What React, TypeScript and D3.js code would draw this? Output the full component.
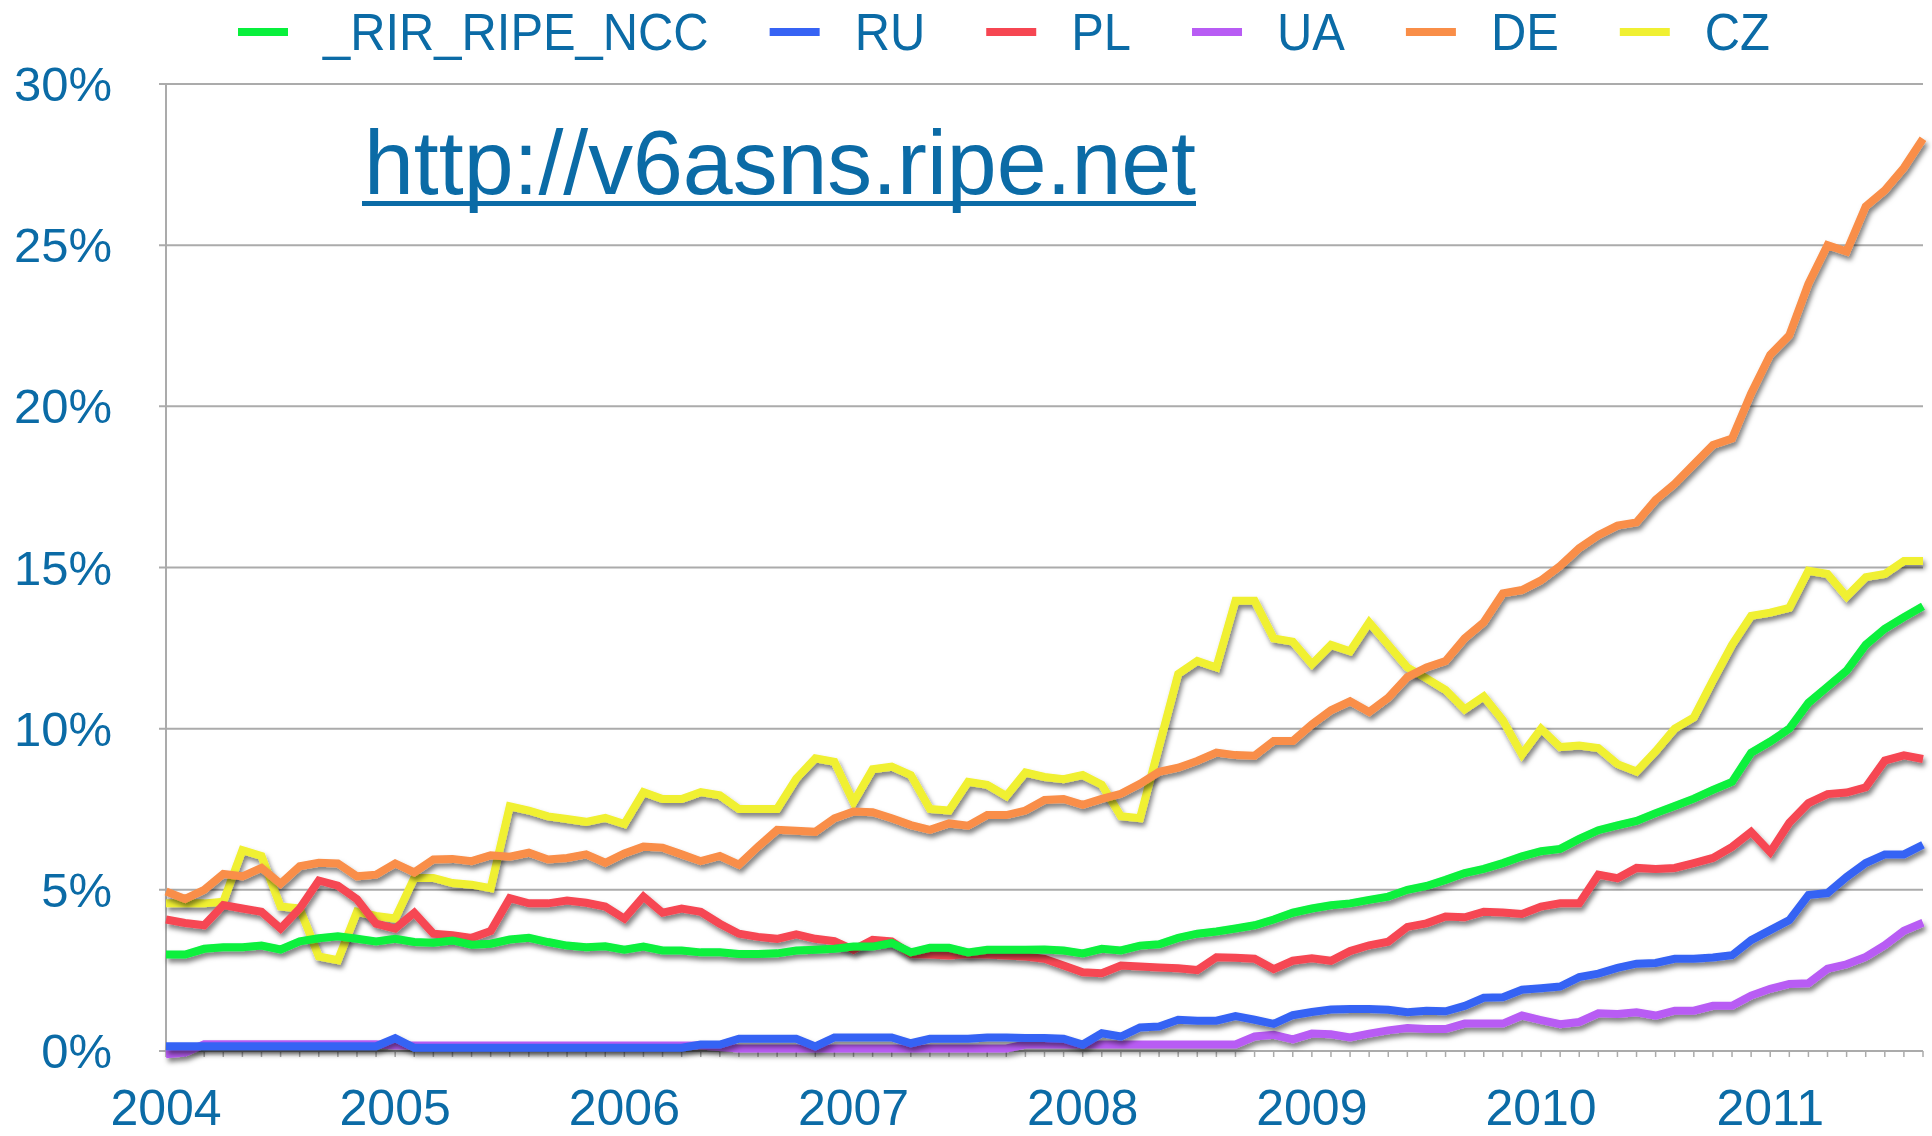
import React, { useRef, useEffect } from 'react';
import * as d3 from 'd3';

// one point per month, Jan 2004 .. Sep 2011
const months = d3.timeMonths(new Date(2004, 0, 1), new Date(2011, 9, 1));
const yearLabels = ['2004', '2005', '2006', '2007', '2008', '2009', '2010', '2011'];
const yTicks = [0, 5, 10, 15, 20, 25, 30];

const seriesNames = ['_RIR_RIPE_NCC', 'RU', 'PL', 'UA', 'DE', 'CZ'];
const seriesColors = ['#08F03C', '#3663F4', '#F64652', '#B85CF4', '#F98E48', '#F0F032'];

// percent of ASes announcing IPv6
const rir = [
  2.99, 2.99, 3.17, 3.22, 3.22, 3.27, 3.15, 3.40, 3.50, 3.56, 3.48, 3.40,
  3.48, 3.38, 3.36, 3.43, 3.30, 3.33, 3.46, 3.51, 3.38, 3.27, 3.22, 3.25,
  3.14, 3.24, 3.12, 3.12, 3.06, 3.06, 3.01, 3.01, 3.03, 3.12, 3.14, 3.17,
  3.24, 3.24, 3.35, 3.06, 3.20, 3.20, 3.06, 3.14, 3.14, 3.14, 3.15, 3.12,
  3.03, 3.17, 3.12, 3.27, 3.31, 3.51, 3.64, 3.71, 3.80, 3.90, 4.08, 4.29,
  4.42, 4.52, 4.58, 4.69, 4.79, 5.00, 5.12, 5.31, 5.52, 5.65, 5.83, 6.04,
  6.20, 6.27, 6.58, 6.85, 7.00, 7.14, 7.38, 7.60, 7.83, 8.10, 8.35, 9.25,
  9.60, 10.0, 10.8, 11.3, 11.8, 12.6, 13.1, 13.46, 13.8,
];
const ru = [
  0.15, 0.15, 0.15, 0.15, 0.15, 0.15, 0.15, 0.15, 0.15, 0.15, 0.15, 0.15,
  0.40, 0.10, 0.10, 0.10, 0.10, 0.10, 0.10, 0.10, 0.10, 0.10, 0.10, 0.10,
  0.10, 0.10, 0.10, 0.10, 0.20, 0.20, 0.38, 0.38, 0.38, 0.38, 0.14, 0.42,
  0.42, 0.42, 0.42, 0.24, 0.38, 0.38, 0.38, 0.42, 0.42, 0.40, 0.40, 0.38,
  0.20, 0.55, 0.45, 0.73, 0.76, 0.97, 0.94, 0.94, 1.08, 0.97, 0.84, 1.11,
  1.21, 1.29, 1.30, 1.30, 1.28, 1.20, 1.25, 1.23, 1.40, 1.65, 1.67, 1.90,
  1.95, 2.00, 2.29, 2.40, 2.58, 2.71, 2.73, 2.86, 2.86, 2.90, 2.97, 3.44,
  3.75, 4.06, 4.84, 4.90, 5.40, 5.83, 6.10, 6.10, 6.40,
];
const pl = [
  4.08, 3.97, 3.90, 4.53, 4.42, 4.32, 3.80, 4.42, 5.29, 5.13, 4.71, 3.95,
  3.80, 4.29, 3.64, 3.59, 3.51, 3.72, 4.74, 4.58, 4.58, 4.67, 4.60, 4.48,
  4.11, 4.79, 4.29, 4.42, 4.32, 3.95, 3.64, 3.54, 3.48, 3.62, 3.48, 3.41,
  3.14, 3.45, 3.40, 3.01, 2.99, 2.96, 3.01, 2.99, 2.96, 2.93, 2.86, 2.65,
  2.44, 2.41, 2.65, 2.62, 2.59, 2.57, 2.51, 2.91, 2.89, 2.86, 2.54, 2.80,
  2.88, 2.80, 3.10, 3.28, 3.39, 3.85, 3.96, 4.17, 4.15, 4.32, 4.30, 4.25,
  4.48, 4.58, 4.58, 5.47, 5.36, 5.68, 5.65, 5.68, 5.83, 5.99, 6.33, 6.80,
  6.17, 7.08, 7.69, 7.97, 8.02, 8.18, 9.01, 9.17, 9.06,
];
const ua = [
  -0.10, -0.05, 0.21, 0.21, 0.21, 0.21, 0.21, 0.21, 0.21, 0.21, 0.21, 0.21,
  0.17, 0.17, 0.17, 0.17, 0.17, 0.17, 0.17, 0.17, 0.17, 0.17, 0.17, 0.17,
  0.17, 0.17, 0.17, 0.17, 0.17, 0.12, 0.08, 0.08, 0.08, 0.08, 0.08, 0.08,
  0.08, 0.08, 0.08, 0.08, 0.08, 0.08, 0.08, 0.08, 0.08, 0.20, 0.20, 0.20,
  0.20, 0.20, 0.20, 0.20, 0.20, 0.20, 0.20, 0.20, 0.20, 0.45, 0.50, 0.36,
  0.54, 0.52, 0.42, 0.54, 0.64, 0.71, 0.68, 0.68, 0.85, 0.85, 0.85, 1.10,
  0.96, 0.83, 0.90, 1.17, 1.15, 1.20, 1.10, 1.25, 1.25, 1.40, 1.40, 1.72,
  1.93, 2.08, 2.10, 2.55, 2.69, 2.92, 3.28, 3.73, 3.98,
];
const de = [
  4.95, 4.72, 5.00, 5.49, 5.42, 5.68, 5.19, 5.73, 5.84, 5.82, 5.42, 5.47,
  5.82, 5.54, 5.94, 5.96, 5.89, 6.07, 6.03, 6.15, 5.94, 5.99, 6.10, 5.84,
  6.13, 6.34, 6.31, 6.10, 5.89, 6.05, 5.78, 6.34, 6.86, 6.83, 6.80, 7.22,
  7.43, 7.41, 7.22, 7.01, 6.86, 7.06, 6.99, 7.32, 7.32, 7.46, 7.79, 7.82,
  7.64, 7.82, 7.98, 8.29, 8.66, 8.79, 9.00, 9.26, 9.18, 9.16, 9.62, 9.62,
  10.13, 10.57, 10.85, 10.52, 10.96, 11.6, 11.9, 12.1, 12.8, 13.3, 14.2, 14.3,
  14.6, 15.05, 15.6, 16.0, 16.3, 16.4, 17.1, 17.6, 18.2, 18.8, 19.0, 20.4,
  21.6, 22.2, 23.8, 25.0, 24.8, 26.2, 26.7, 27.4, 28.3,
];
const cz = [
  4.58, 4.58, 4.58, 4.63, 6.23, 6.05, 4.48, 4.42, 2.93, 2.82, 4.32, 4.19,
  4.11, 5.37, 5.37, 5.21, 5.16, 5.05, 7.59, 7.46, 7.28, 7.20, 7.11, 7.23,
  7.04, 8.03, 7.82, 7.82, 8.03, 7.93, 7.51, 7.51, 7.51, 8.45, 9.08, 8.97,
  7.72, 8.74, 8.82, 8.56, 7.51, 7.46, 8.35, 8.26, 7.91, 8.64, 8.50, 8.43,
  8.56, 8.26, 7.28, 7.22, 9.45, 11.7, 12.1, 11.9, 13.97, 13.97, 12.8, 12.7,
  12.0, 12.6, 12.4, 13.3, 12.6, 11.9, 11.56, 11.2, 10.6, 11.0, 10.26, 9.2,
  10.0, 9.43, 9.48, 9.4, 8.9, 8.67, 9.3, 10.0, 10.35, 11.5, 12.6, 13.5,
  13.6, 13.75, 14.9, 14.8, 14.1, 14.7, 14.8, 15.2, 15.2,
];

const seriesValues = [rir, ru, pl, ua, de, cz];

const W = 1932;
const H = 1136;
const textColor = '#0B6BA6';
const font = '"Liberation Sans", Arial, Helvetica, sans-serif';

const Chart = () => {
  const svgRef = useRef(null);

  useEffect(() => {
    const svg = d3.select(svgRef.current);
    svg.selectAll('*').remove();

    const margin = { top: 84, right: 9, bottom: 85, left: 166 };

    const x = d3.scaleLinear()
      .domain([0, months.length - 1])
      .range([margin.left, W - margin.right]);
    const y = d3.scaleLinear()
      .domain([0, 30])
      .range([H - margin.bottom, margin.top]);

    const defs = svg.append('defs');
    const filter = defs.append('filter')
      .attr('id', 'line-shadow')
      .attr('filterUnits', 'userSpaceOnUse')
      .attr('x', 0).attr('y', 0).attr('width', W).attr('height', H);
    filter.append('feDropShadow')
      .attr('dx', 2)
      .attr('dy', 4)
      .attr('stdDeviation', 2.5)
      .attr('flood-color', '#000')
      .attr('flood-opacity', 0.5);

    // grid + y labels
    const grid = svg.append('g');
    grid.selectAll('line.grid')
      .data(yTicks)
      .enter()
      .append('line')
      .attr('x1', margin.left - 7)
      .attr('x2', W - margin.right)
      .attr('y1', d => y(d))
      .attr('y2', d => y(d))
      .attr('stroke', '#ABABAB')
      .attr('stroke-width', 2);

    grid.append('line')
      .attr('x1', margin.left)
      .attr('x2', margin.left)
      .attr('y1', y(30))
      .attr('y2', y(0))
      .attr('stroke', '#ABABAB')
      .attr('stroke-width', 2);

    // monthly ticks under the axis
    grid.selectAll('line.mtick')
      .data(months)
      .enter()
      .append('line')
      .attr('x1', (d, i) => x(i))
      .attr('x2', (d, i) => x(i))
      .attr('y1', y(0))
      .attr('y2', y(0) + 6)
      .attr('stroke', '#ABABAB')
      .attr('stroke-width', 1.5);

    svg.append('g')
      .selectAll('text')
      .data(yTicks)
      .enter()
      .append('text')
      .attr('x', 112)
      .attr('y', d => y(d) + 17)
      .attr('text-anchor', 'end')
      .style('font-family', font)
      .style('font-size', '49px')
      .style('fill', textColor)
      .text(d => `${d}%`);

    // year labels at each January
    const januaries = months.map((m, i) => i).filter(i => months[i].getMonth() === 0);
    svg.append('g')
      .selectAll('text')
      .data(januaries)
      .enter()
      .append('text')
      .attr('x', d => x(d))
      .attr('y', 1125)
      .attr('text-anchor', 'middle')
      .style('font-family', font)
      .style('font-size', '50px')
      .style('fill', textColor)
      .text((d, k) => yearLabels[k]);

    // lines, drawn back to front
    const line = d3.line()
      .x((d, i) => x(i))
      .y(d => y(d));

    const order = d3.range(seriesValues.length).reverse();
    svg.append('g')
      .selectAll('path')
      .data(order)
      .enter()
      .append('path')
      .attr('d', k => line(seriesValues[k]))
      .attr('fill', 'none')
      .attr('stroke', k => seriesColors[k])
      .attr('stroke-width', 8)
      .attr('stroke-linejoin', 'miter')
      .attr('filter', 'url(#line-shadow)');

    // url caption
    svg.append('text')
      .attr('x', 364)
      .attr('y', 194)
      .attr('textLength', 832)
      .attr('lengthAdjust', 'spacingAndGlyphs')
      .style('font-family', font)
      .style('font-size', '91px')
      .style('fill', textColor)
      .text('http://v6asns.ripe.net');
    svg.append('rect')
      .attr('x', 362)
      .attr('y', 201)
      .attr('width', 834)
      .attr('height', 5)
      .attr('fill', textColor);

    // legend
    const legend = svg.append('g');
    let lx = 238;
    seriesNames.forEach((name, k) => {
      legend.append('rect')
        .attr('x', lx)
        .attr('y', 28)
        .attr('width', 50)
        .attr('height', 8)
        .attr('fill', seriesColors[k]);
      const t = legend.append('text')
        .attr('transform', `translate(${lx + 85},50) scale(0.94,1)`)
        .style('font-family', font)
        .style('font-size', '52px')
        .style('fill', textColor)
        .text(name);
      const w = t.node().getComputedTextLength() * 0.94;
      lx += 85 + w + 61;
    });
  }, []);

  return (
    <div style={{ position: 'fixed', left: 0, top: 0, width: W, height: H, background: '#fff' }}>
      <svg ref={svgRef} width={W} height={H} style={{ display: 'block' }}></svg>
    </div>
  );
};

export default function App() {
  return <Chart />;
}
